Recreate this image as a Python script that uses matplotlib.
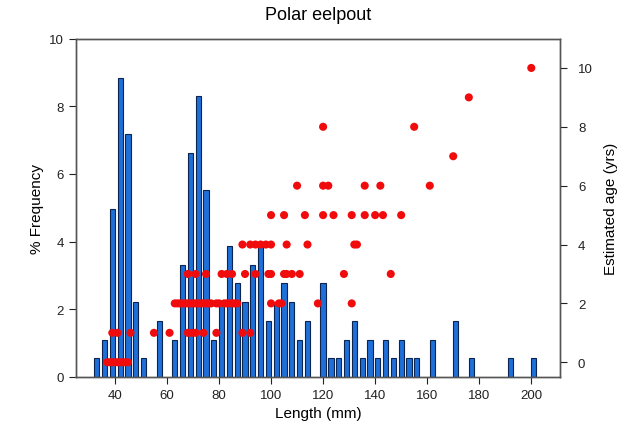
import numpy as np
import matplotlib
matplotlib.use("Agg")
from matplotlib import pyplot as plt

plt.rcParams['font.family'] = ['Liberation Sans', 'DejaVu Sans']

# length-frequency histogram (3 mm bins, bin centres in mm, fish counts)
bin_mm = [33, 36, 39, 42, 45, 48, 51, 57, 63, 66, 69, 72, 75, 78, 81, 84, 87,
          90, 93, 96, 99, 102, 105, 108, 111, 114, 120, 123, 126, 129, 132,
          135, 138, 141, 144, 147, 150, 153, 156, 162, 171, 177, 192, 201]
counts = [1, 2, 9, 16, 13, 4, 1, 3, 2, 6, 12, 15, 10, 2, 4, 7, 5,
          4, 6, 7, 3, 4, 5, 4, 2, 3, 5, 1, 1, 2, 3,
          1, 2, 1, 2, 1, 2, 1, 1, 2, 3, 1, 1, 1]

# length at age (mm, yrs)
age0_len = [37, 38, 39, 40, 41, 42, 43, 44, 45]
age1_len = [39, 41, 46, 55, 61, 68, 69.5, 71, 74, 79, 89, 92]
age2_len = [63, 64, 65, 66, 67, 68, 69, 70, 71, 72, 73, 74, 75, 76, 77, 79,
            80, 82, 83, 84, 85, 86, 87, 100, 103, 104, 118, 131]
age3_len = [68, 71, 75, 81, 83, 85, 90, 94, 99, 100, 105, 106, 108, 111, 128, 146]
age4_len = [89, 92, 94, 96, 98, 100, 106, 114, 132, 133]
age5_len = [100, 105, 113, 120, 124, 131, 136, 140, 143, 150]
age6_len = [110, 120, 122, 136, 142, 161]
age7_len = [170]
age8_len = [120, 155]
age9_len = [176]
age10_len = [200]

ages_lens = [age0_len, age1_len, age2_len, age3_len, age4_len, age5_len,
             age6_len, age7_len, age8_len, age9_len, age10_len]
pt_len = np.concatenate([np.array(l, float) for l in ages_lens])
pt_age = np.concatenate([np.full(len(l), a) for a, l in enumerate(ages_lens)])

counts = np.array(counts, float)
freq = counts / counts.sum() * 100

fig = plt.figure(figsize=(6.27, 4.39), dpi=100)
ax = fig.add_axes([0.121, 0.139, 0.772, 0.771])
ax.bar(bin_mm, freq, width=2.0, color='#1f6fd8', edgecolor='#0b2450',
       linewidth=0.8, zorder=2)
ax.set_xlim(25, 211)
ax.set_ylim(0, 10)
ax.set_xticks(range(40, 201, 20))
ax.set_yticks(range(0, 11, 2))
ax.set_xlabel('Length (mm)', fontsize=11)
ax.set_ylabel('% Frequency', fontsize=11)
ax.set_title('Polar eelpout', fontsize=13, pad=14)

ax2 = ax.twinx()
ax2.scatter(pt_len, pt_age, s=34, color='#f00c0c', edgecolors='none', zorder=3)
ax2.set_ylim(-0.5, 11)
ax2.set_yticks(range(0, 11, 2))
ax2.set_ylabel('Estimated age (yrs)', fontsize=11, labelpad=8)

for a in (ax, ax2):
    a.tick_params(direction='out', length=5, width=0.8, labelsize=9.5,
                  colors='#222222')
    for s in a.spines.values():
        s.set_color('#555555')
        s.set_linewidth(1.0)
ax2.tick_params(axis='y', pad=8)

fig.savefig('out.png', dpi=100)
